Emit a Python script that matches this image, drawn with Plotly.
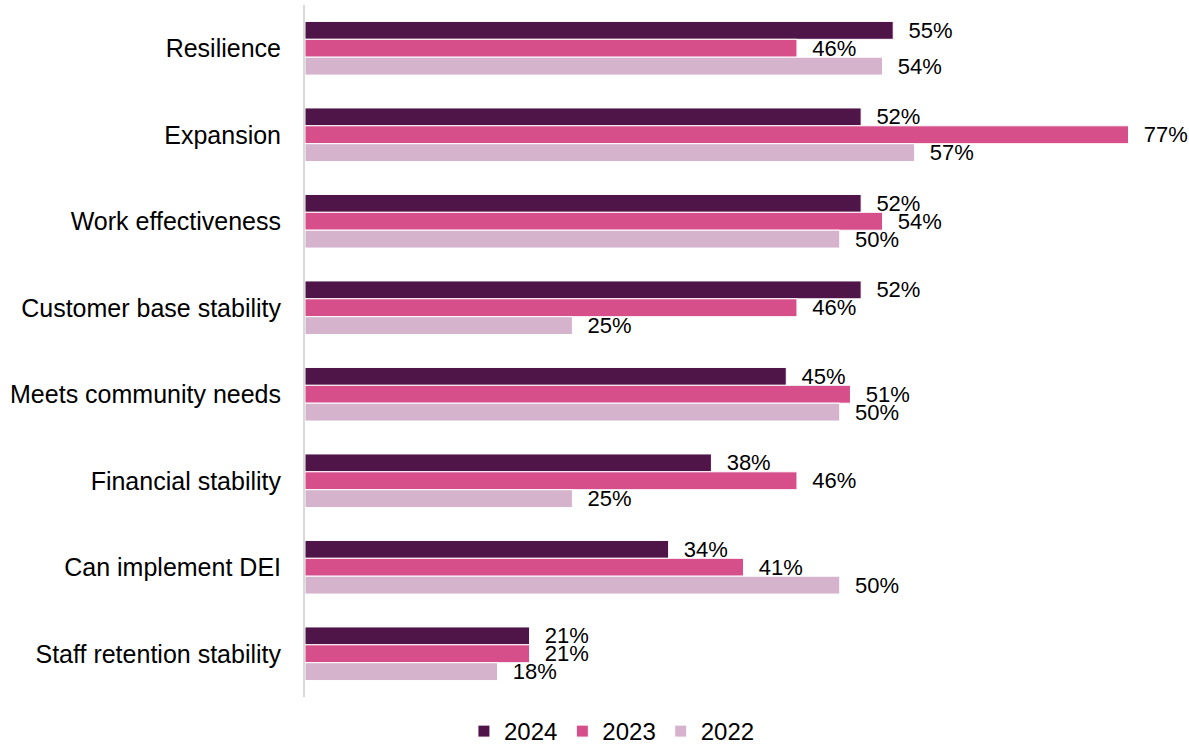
import plotly.graph_objects as go

categories = [
    "Resilience",
    "Expansion",
    "Work effectiveness",
    "Customer base stability",
    "Meets community needs",
    "Financial stability",
    "Can implement DEI",
    "Staff retention stability",
]
values_2024 = [55, 52, 52, 52, 45, 38, 34, 21]
values_2023 = [46, 77, 54, 46, 51, 46, 41, 21]
values_2022 = [54, 57, 50, 25, 50, 25, 50, 18]

series = [
    ("2024", values_2024, "#4F1548"),
    ("2023", values_2023, "#D64F8A"),
    ("2022", values_2022, "#D5B3CC"),
]

FONT = "Liberation Sans"

fig = go.Figure()
for name, vals, color in series:
    fig.add_trace(go.Bar(
        name=name,
        y=categories,
        x=vals,
        orientation="h",
        marker=dict(color=color, line=dict(color="white", width=1)),
        text=[f"\u00a0\u00a0{v}%" for v in vals],
        textposition="outside",
        textfont=dict(family=FONT, size=22, color="#000000"),
        cliponaxis=False,
        constraintext="none",
        hoverinfo="skip",
    ))

fig.update_layout(
    barmode="group",
    bargap=0.38,
    bargroupgap=0,
    width=1189,
    height=754,
    margin=dict(l=305, r=7, t=5, b=57),
    paper_bgcolor="white",
    plot_bgcolor="white",
    font=dict(family=FONT, size=24, color="#000000"),
    legend=dict(
        orientation="h",
        x=0.35, xanchor="center",
        yref="container",
        y=0, yanchor="bottom",
        font=dict(family=FONT, size=24, color="#000000"),
        itemwidth=30,
        traceorder="normal",
    ),
    xaxis=dict(
        range=[0, 82],
        visible=False,
        showgrid=False,
        zeroline=False,
    ),
    yaxis=dict(
        autorange="reversed",
        showgrid=False,
        zeroline=False,
        showline=True,
        linecolor="#D9D9D9",
        linewidth=2,
        ticks="",
        ticklabelstandoff=17,
        tickfont=dict(family=FONT, size=25, color="#000000"),
    ),
)

fig.write_html("out.html")
